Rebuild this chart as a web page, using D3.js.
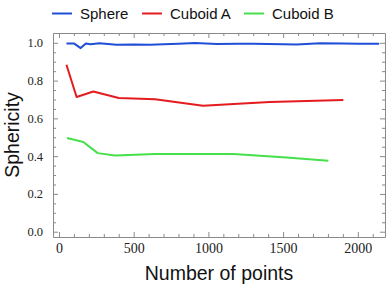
<!DOCTYPE html>
<html><head><meta charset="utf-8">
<script src="https://cdn.jsdelivr.net/npm/d3@7"></script>
<style>body{margin:0;background:#fff}svg{display:block}</style>
</head><body>
<svg id="c" width="390" height="289"></svg>
<script>
const seriesNames = ["Sphere", "Cuboid A", "Cuboid B"];
const sphereX = [50, 100, 145, 180, 212, 270, 386, 500, 610, 700, 800, 910, 1057, 1200, 1300, 1400, 1500, 1590, 1747, 1900, 2000, 2143];
const sphereY = [0.997, 0.997, 0.972, 0.997, 0.993, 0.998, 0.990, 0.991, 0.990, 0.992, 0.995, 0.999, 0.994, 0.995, 0.995, 0.994, 0.992, 0.991, 0.998, 0.996, 0.995, 0.995];
const cubAX = [50, 118, 230, 400, 643, 964, 1200, 1412, 1903];
const cubAY = [0.884, 0.713, 0.742, 0.708, 0.701, 0.667, 0.678, 0.687, 0.697];
const cubBX = [54, 163, 259, 375, 643, 1167, 1524, 1803];
const cubBY = [0.496, 0.475, 0.416, 0.404, 0.411, 0.411, 0.393, 0.376];
const xTicks = [0, 500, 1000, 1500, 2000];
const yTicks = [0.0, 0.2, 0.4, 0.6, 0.8, 1.0];
const colors = ["#1f4fd6", "#e41b1f", "#45e04b"];

const svg = d3.select("#c");
const L = 53, R = 385, T = 33, B = 237;
const x = d3.scaleLinear().domain([-40, 2182]).range([L, R]);
const y = d3.scaleLinear().domain([-0.028, 1.052]).range([B, T]);

const frame = "#8a8a8a";
const xMinor = d3.range(0, 2101, 100);
const yMinor = d3.range(0, 1.0001, 0.05).map(v => +v.toFixed(2));

function isMajorX(v){ return v % 500 === 0; }
function isMajorY(v){ return Math.abs(v*5 - Math.round(v*5)) < 1e-6; }

// bottom axis
const gB = svg.append("g").attr("transform", `translate(0,${B})`)
  .call(d3.axisBottom(x).tickValues(xMinor).tickSizeOuter(0).tickFormat(""));
gB.selectAll(".tick line").attr("y2", d => isMajorX(d) ? -5 : -3);
const gBl = svg.append("g").attr("transform", `translate(0,${B})`)
  .call(d3.axisBottom(x).tickValues(xTicks).tickSize(0).tickPadding(6).tickFormat(d3.format("d")));
gBl.select(".domain").remove();
gBl.selectAll("text").attr("font-family", "Liberation Serif, serif").attr("font-size", 14).attr("fill", "#222");

// top axis
const gT = svg.append("g").attr("transform", `translate(0,${T})`)
  .call(d3.axisTop(x).tickValues(xMinor).tickSizeOuter(0).tickFormat(""));
gT.selectAll(".tick line").attr("y2", d => isMajorX(d) ? 5 : 3);

// left axis
const gL = svg.append("g").attr("transform", `translate(${L},0)`)
  .call(d3.axisLeft(y).tickValues(yMinor).tickSizeOuter(0).tickFormat(""));
gL.selectAll(".tick line").attr("x2", d => isMajorY(d) ? 5 : 3);
const gLl = svg.append("g").attr("transform", `translate(${L},0)`)
  .call(d3.axisLeft(y).tickValues(yTicks).tickSize(0).tickPadding(10).tickFormat(d3.format(".1f")));
gLl.select(".domain").remove();
gLl.selectAll("text").attr("font-family", "Liberation Serif, serif").attr("font-size", 12.5).attr("fill", "#222");

// right axis
const gR = svg.append("g").attr("transform", `translate(${R},0)`)
  .call(d3.axisRight(y).tickValues(yMinor).tickSizeOuter(0).tickFormat(""));
gR.selectAll(".tick line").attr("x2", d => isMajorY(d) ? -5 : -3);

svg.selectAll(".domain").attr("stroke", frame);
svg.selectAll(".tick line").attr("stroke", frame);

// lines
const data = [
  sphereX.map((v,i)=>[v, sphereY[i]]),
  cubAX.map((v,i)=>[v, cubAY[i]]),
  cubBX.map((v,i)=>[v, cubBY[i]])
];
const line = d3.line().x(d => x(d[0])).y(d => y(d[1]));
data.forEach((d,i) => {
  svg.append("path").attr("d", line(d)).attr("fill", "none")
    .attr("stroke", colors[i]).attr("stroke-width", 2).attr("stroke-linejoin", "round");
});

// legend
const legX = [52, 142, 244];
seriesNames.forEach((n,i) => {
  svg.append("line").attr("x1", legX[i]).attr("x2", legX[i]+20).attr("y1", 13.5).attr("y2", 13.5)
    .attr("stroke", colors[i]).attr("stroke-width", 2);
  svg.append("text").attr("x", legX[i]+28).attr("y", 18.5).text(n)
    .attr("font-family", "Liberation Sans, Arial, sans-serif").attr("font-size", 15).attr("fill", "#111");
});

// axis titles
svg.append("text").attr("x", (L+R)/2).attr("y", 280).attr("text-anchor", "middle")
  .attr("font-family", "Liberation Sans, Arial, sans-serif").attr("font-size", 19.5).attr("fill", "#111")
  .text("Number of points");
svg.append("text").attr("transform", `translate(18.5,${(T+B)/2}) rotate(-90)`).attr("text-anchor", "middle")
  .attr("font-family", "Liberation Sans, Arial, sans-serif").attr("font-size", 19.5).attr("fill", "#111")
  .text("Sphericity");
</script>
</body></html>
